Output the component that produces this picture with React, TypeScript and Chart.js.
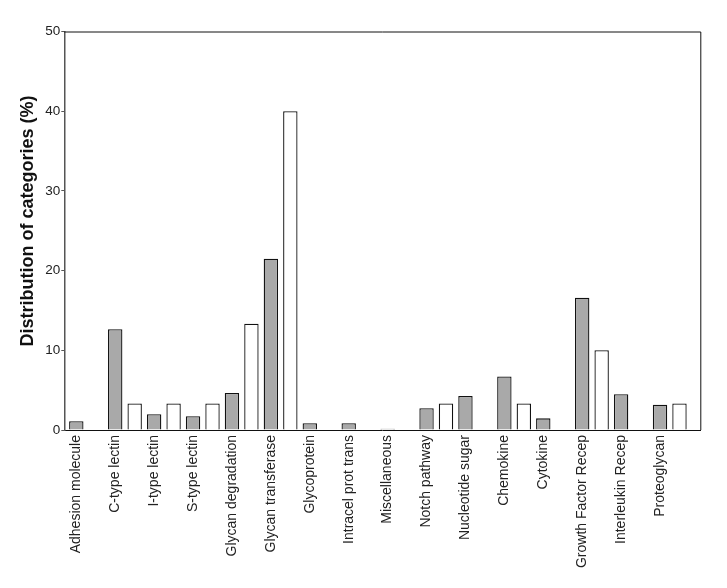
import React, { useEffect, useRef } from 'react';
import { Chart, registerables } from 'chart.js';

Chart.register(...registerables);

const categories = [
  'Adhesion molecule',
  'C-type lectin',
  'I-type lectin',
  'S-type lectin',
  'Glycan degradation',
  'Glycan transferase',
  'Glycoprotein',
  'Intracel prot trans',
  'Miscellaneous',
  'Notch pathway',
  'Nucleotide sugar',
  'Chemokine',
  'Cytokine',
  'Growth Factor Recep',
  'Interleukin Recep',
  'Proteoglycan',
];

const grayValues = [1.1, 12.65, 1.97, 1.72, 4.64, 21.5, 0.84, 0.84, 0.17, 2.72, 4.27, 6.72, 1.46, 16.6, 4.48, 3.18];
const whiteValues: (number | null)[] = [null, 3.33, 3.33, 3.33, 13.33, 40.0, null, null, null, 3.33, null, 3.33, null, 10.0, null, 3.33];

const yTicks = [0, 10, 20, 30, 40, 50];
const yTitle = 'Distribution of categories (%)';

const FONT = "Arial, 'Liberation Sans', Helvetica, sans-serif";

export default function App() {
  const ref = useRef<HTMLCanvasElement>(null);

  useEffect(() => {
    if (!ref.current) return;
    const grayData = grayValues.map((v, i) => ({ x: 2 * i, y: v }));
    const whiteData = whiteValues
      .map((v, i) => (v == null ? null : { x: 2 * i + 1, y: v }))
      .filter((d) => d !== null) as { x: number; y: number }[];

    const framePlugin = {
      id: 'frame',
      afterDraw(chart: any) {
        const { ctx, chartArea } = chart;
        ctx.save();
        ctx.strokeStyle = '#111';
        ctx.lineWidth = 1;
        ctx.beginPath();
        ctx.moveTo(chartArea.left, chartArea.top + 0.5);
        ctx.lineTo(chartArea.right + 0.5, chartArea.top + 0.5);
        ctx.lineTo(chartArea.right + 0.5, chartArea.bottom);
        ctx.stroke();
        // y-axis title
        ctx.translate(28, 221);
        ctx.rotate(-Math.PI / 2);
        ctx.font = `bold 18px ${FONT}`;
        ctx.fillStyle = '#111';
        ctx.textAlign = 'center';
        ctx.textBaseline = 'middle';
        ctx.fillText(yTitle, 0, 0);
        ctx.restore();
      },
    };

    const chart = new Chart(ref.current, {
      type: 'bar',
      data: {
        datasets: [
          {
            data: grayData as any,
            backgroundColor: '#a9a9a9',
            borderColor: '#111',
            borderWidth: 1.3,
            grouped: false,
            barPercentage: 0.74,
            categoryPercentage: 1,
          },
          {
            data: whiteData as any,
            backgroundColor: '#ffffff',
            borderColor: '#111',
            borderWidth: 1.3,
            grouped: false,
            barPercentage: 0.74,
            categoryPercentage: 1,
          },
        ],
      },
      options: {
        animation: false,
        responsive: false,
        devicePixelRatio: 1,
        layout: { padding: { top: 31.5, right: 26.7, left: 0, bottom: 0 } },
        plugins: {
          legend: { display: false },
          tooltip: { enabled: false },
        },
        scales: {
          x: {
            type: 'linear',
            min: -0.617,
            max: 32.07,
            offset: false,
            grid: { display: false, drawTicks: false },
            border: { display: true, color: '#111', width: 1 },
            ticks: {
              autoSkip: false,
              minRotation: 90,
              maxRotation: 90,
              padding: 5,
              color: '#222',
              font: { family: FONT, size: 14 },
              callback: (v: any) => categories[Number(v) / 2] ?? '',
            },
            afterBuildTicks: (axis: any) => {
              axis.ticks = categories.map((_, i) => ({ value: 2 * i }));
            },
            afterFit: (axis: any) => {
              axis.height = 158;
            },
          },
          y: {
            type: 'linear',
            min: 0,
            max: 50,
            grid: { drawOnChartArea: false, drawTicks: true, tickLength: 3, color: '#555', lineWidth: 1 },
            border: { display: true, color: '#555', width: 1.5 },
            ticks: {
              stepSize: 10,
              padding: 1,
              color: '#222',
              font: { family: FONT, size: 13.5 },
            },
            afterBuildTicks: (axis: any) => {
              axis.ticks = yTicks.map((v) => ({ value: v }));
            },
            afterFit: (axis: any) => {
              axis.width = 64.3;
            },
          },
        },
      } as any,
      plugins: [framePlugin],
    });

    return () => chart.destroy();
  }, []);

  return (
    <div style={{ position: 'absolute', left: 0, top: 0, width: 727, height: 588, background: '#fff' }}>
      <canvas ref={ref} width={727} height={588} style={{ display: 'block', width: 727, height: 588 }} />
    </div>
  );
}
